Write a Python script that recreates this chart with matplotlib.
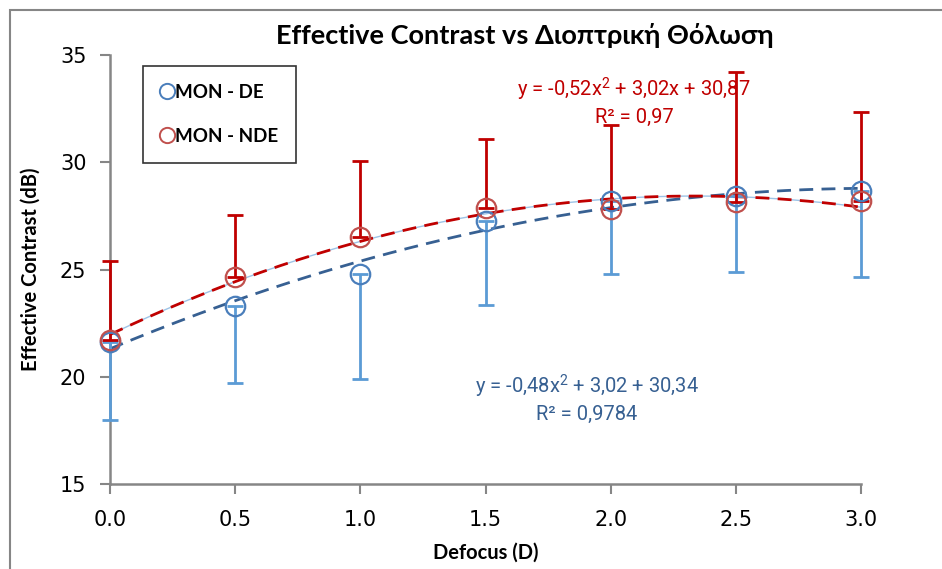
import matplotlib.pyplot as plt
import numpy as np
from matplotlib.lines import Line2D
from matplotlib.patches import Rectangle

defocus = [0.0, 0.5, 1.0, 1.5, 2.0, 2.5, 3.0]

# MON - DE: mean contrast and lower error
de_mean = [21.6, 23.3, 24.78, 27.28, 28.21, 28.44, 28.67]
de_err = [3.62, 3.61, 4.90, 3.94, 3.42, 3.54, 4.02]

# MON - NDE: mean contrast and upper error
nde_mean = [21.71, 24.66, 26.53, 27.85, 27.81, 28.13, 28.21]
nde_err = [3.70, 2.88, 3.55, 3.23, 3.93, 6.09, 4.12]

de_eq = 'y = -0,48x$^2$ + 3,02 + 30,34\nR² = 0,9784'
nde_eq = 'y = -0,52x$^2$ + 3,02x + 30,87\nR² = 0,97'

blue = '#4a7ebb'
blue_err = '#5b9bd5'
blue_trend = '#376092'
red = '#c0504d'
red_err = '#c00000'
grey = '#868686'

plt.rcParams['font.family'] = ['Lato', 'DejaVu Sans']
plt.rcParams['mathtext.default'] = 'regular'

fig = plt.figure(figsize=(9.42, 5.69), dpi=100)
ax = fig.add_axes([0.1168, 0.1494, 0.7972, 0.7539])

# outer chart border (only top and left edges visible)
fig.add_artist(Rectangle((10 / 942, -0.2), 1.5, 1.2 - 10 / 569,
                         transform=fig.transFigure, fill=False,
                         edgecolor=grey, lw=1.5, clip_on=False))

x = np.array(defocus)
xs = np.linspace(0, 3, 200)

# quadratic trendlines
p_de = np.polyfit(x, de_mean, 2)
p_nde = np.polyfit(x, nde_mean, 2)
ax.plot(xs, np.polyval(p_nde, xs), color='#9dc3e6', lw=1.0, zorder=2)
ax.plot(xs, np.polyval(p_de, xs), color=blue_trend, lw=2, ls=(0, (5, 3)), zorder=3)
ax.plot(xs, np.polyval(p_nde, xs), color=red_err, lw=2, ls=(0, (5, 3)), zorder=3)

eb_de = ax.errorbar(x, de_mean, yerr=[de_err, np.zeros(7)], fmt='none',
                    ecolor=blue_err, elinewidth=2, capsize=6, capthick=2, zorder=4)
ax.plot(x, de_mean, 'o', ms=14, mfc='none', mec=blue, mew=1.6, zorder=5,
        clip_on=False)
eb_nde = ax.errorbar(x, nde_mean, yerr=[np.zeros(7), nde_err], fmt='none',
                     ecolor=red_err, elinewidth=2, capsize=6, capthick=2, zorder=4)
ax.plot(x, nde_mean, 'o', ms=14, mfc='none', mec=red, mew=1.6, zorder=5,
        clip_on=False)
for eb in (eb_de, eb_nde):
    for art in eb.get_children():
        art.set_clip_on(False)

ax.text(0.635, 0.2, de_eq, transform=ax.transAxes, ha='center', va='center',
        color=blue_trend, fontsize=14.5, family=['Roboto', 'DejaVu Sans'],
        linespacing=1.3)
ax.text(0.698, 0.892, nde_eq, transform=ax.transAxes, ha='center', va='center',
        color=red_err, fontsize=14.5, family=['Roboto', 'DejaVu Sans'],
        linespacing=1.3)

ax.set_xlim(0, 3)
ax.set_ylim(15, 35)
ax.set_xticks(defocus)
ax.set_xticklabels([f'{v:.1f}' for v in defocus])
ax.set_yticks([15, 20, 25, 30, 35])
for lab in ax.get_xticklabels() + ax.get_yticklabels():
    lab.set_family(['Liberation Sans Narrow', 'DejaVu Sans Condensed'])
    lab.set_fontsize(15)
ax.tick_params(direction='out', length=7, width=1.5, color=grey, pad=10)
ax.tick_params(axis='x', pad=12)
for side in ['top', 'right']:
    ax.spines[side].set_visible(False)
for side in ['left', 'bottom']:
    ax.spines[side].set_color(grey)
    ax.spines[side].set_linewidth(1.8)

ax.set_xlabel('Defocus (D)', fontsize=14.5, fontweight='bold', labelpad=9)
ax.set_ylabel('Effective Contrast (dB)', fontsize=14.5, fontweight='bold', labelpad=14)
fig.text(0.557, 0.937, 'Effective Contrast vs Διοπτρική Θόλωση', ha='center',
         va='center', fontsize=19.5, fontweight='bold')

handles = [Line2D([], [], ls='none', marker='o', ms=11, mfc='none', mec=blue, mew=1.4),
           Line2D([], [], ls='none', marker='o', ms=11, mfc='none', mec=red, mew=1.4)]
leg = ax.legend(handles, ['MON - DE', 'MON - NDE'], loc='upper left',
                bbox_to_anchor=(0.044, 0.975), frameon=True, fancybox=False,
                edgecolor='black', labelspacing=1.45, handlelength=0.6,
                handletextpad=0.15, borderpad=0.95, borderaxespad=0,
                prop={'weight': 'bold', 'size': 13.5})
leg.get_frame().set_linewidth(1.2)
for t in leg.get_texts():
    t.set_family(['Lato', 'DejaVu Sans'])

fig.savefig('out.png', dpi=100)
